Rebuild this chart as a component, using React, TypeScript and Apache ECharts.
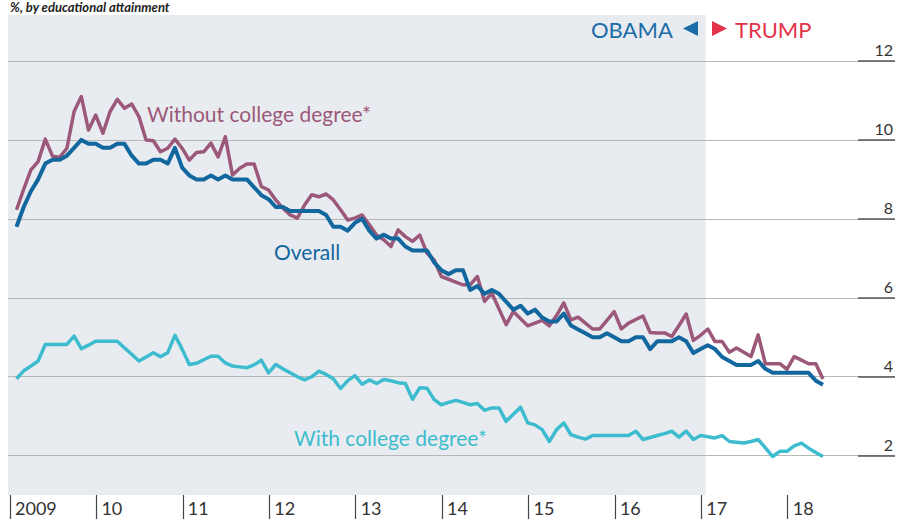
import React, { useEffect, useRef } from "react";
import * as echarts from "echarts";

// Monthly unemployment rate, %, Jan 2009 – May 2018
const overall = [
  7.8, 8.3, 8.7, 9.0, 9.4, 9.5, 9.5, 9.6, 9.8, 10.0, 9.9, 9.9,
  9.8, 9.8, 9.9, 9.9, 9.6, 9.4, 9.4, 9.5, 9.5, 9.4, 9.8, 9.3,
  9.1, 9.0, 9.0, 9.1, 9.0, 9.1, 9.0, 9.0, 9.0, 8.8, 8.6, 8.5,
  8.3, 8.3, 8.2, 8.2, 8.2, 8.2, 8.2, 8.1, 7.8, 7.8, 7.7, 7.9,
  8.0, 7.7, 7.5, 7.6, 7.5, 7.5, 7.3, 7.2, 7.2, 7.2, 6.9, 6.7,
  6.6, 6.7, 6.7, 6.2, 6.3, 6.1, 6.2, 6.1, 5.9, 5.7, 5.8, 5.6,
  5.7, 5.5, 5.4, 5.4, 5.6, 5.3, 5.2, 5.1, 5.0, 5.0, 5.1, 5.0,
  4.9, 4.9, 5.0, 5.0, 4.7, 4.9, 4.9, 4.9, 5.0, 4.9, 4.6, 4.7,
  4.8, 4.7, 4.5, 4.4, 4.3, 4.3, 4.3, 4.4, 4.2, 4.1, 4.1, 4.1,
  4.1, 4.1, 4.1, 3.9, 3.8,
];

const withoutDegree = [
  8.23, 8.75, 9.24, 9.45, 10.02, 9.59, 9.56, 9.79, 10.72, 11.1, 10.25, 10.63,
  10.17, 10.72, 11.03, 10.8, 10.91, 10.59, 10.0, 9.98, 9.7, 9.79, 10.02, 9.79,
  9.49, 9.68, 9.7, 9.92, 9.57, 10.08, 9.11, 9.28, 9.39, 9.39, 8.82, 8.73,
  8.48, 8.27, 8.1, 8.02, 8.35, 8.61, 8.56, 8.63, 8.48, 8.23, 7.97, 8.02,
  8.1, 7.85, 7.59, 7.47, 7.3, 7.72, 7.55, 7.43, 7.59, 7.13, 6.96, 6.54,
  6.47, 6.4, 6.33, 6.33, 6.54, 5.91, 6.12, 5.72, 5.32, 5.65, 5.47, 5.29,
  5.36, 5.43, 5.29, 5.55, 5.87, 5.44, 5.51, 5.36, 5.21, 5.21, 5.43, 5.65,
  5.21, 5.36, 5.45, 5.54, 5.12, 5.11, 5.11, 5.02, 5.3, 5.59, 4.92, 5.05,
  5.21, 4.89, 4.89, 4.62, 4.73, 4.62, 4.51, 5.06, 4.33, 4.33, 4.33, 4.19,
  4.51, 4.42, 4.33, 4.33, 3.94,
];

const withDegree = [
  3.95, 4.15, 4.27, 4.4, 4.82, 4.82, 4.82, 4.82, 5.03, 4.71, 4.8, 4.9,
  4.9, 4.9, 4.9, 4.73, 4.57, 4.4, 4.5, 4.61, 4.51, 4.61, 5.05, 4.7,
  4.31, 4.34, 4.43, 4.52, 4.52, 4.35, 4.27, 4.25, 4.23, 4.3, 4.42, 4.1,
  4.31, 4.2, 4.1, 4.0, 3.92, 4.0, 4.14, 4.06, 3.95, 3.7, 3.9, 4.03,
  3.81, 3.92, 3.83, 3.93, 3.9, 3.85, 3.83, 3.43, 3.72, 3.71, 3.42, 3.29,
  3.35, 3.4, 3.35, 3.29, 3.32, 3.15, 3.21, 3.21, 2.87, 3.05, 3.23, 2.83,
  2.78, 2.66, 2.36, 2.66, 2.83, 2.53, 2.47, 2.42, 2.51, 2.51, 2.51, 2.51,
  2.51, 2.51, 2.62, 2.41, 2.46, 2.51, 2.56, 2.62, 2.47, 2.62, 2.41, 2.51,
  2.48, 2.45, 2.51, 2.36, 2.34, 2.32, 2.36, 2.41, 2.2, 1.98, 2.11, 2.11,
  2.25, 2.32, 2.19, 2.08, 1.98,
];

// x axis in months since Jan 2009
const yearTicks = [0, 12, 24, 36, 48, 60, 72, 84, 96, 108];
const yearLabels = ["2009", "10", "11", "12", "13", "14", "15", "16", "17", "18"];
const yTicks = [2, 4, 6, 8, 10, 12];
const X_MIN = -0.28;
const X_MAX = 122.9;
const Y_MIN = 1.004;
const Y_MAX = 13.165;
const OBAMA_END = 96.63; // Jan 20th 2017
const POINT_OFFSET = 0.9; // monthly values plotted at month end

const C_OVERALL = "#12679f";
const C_WITHOUT = "#9c5878";
const C_WITH = "#3dbccf";
const C_OBAMA = "#1b6ca7";
const C_TRUMP = "#e2334b";
const FONT = "Lato";

export default function App() {
  const ref = useRef<HTMLDivElement>(null);

  useEffect(() => {
    const chart = echarts.init(ref.current!, null, { renderer: "svg" });
    const pairs = (arr: number[]) => arr.map((v, i) => [i + POINT_OFFSET, v]);

    const staticGraphics: any[] = [
      {
        type: "text",
        id: "subtitle",
        x: 10,
        y: 0,
        z: 10,
        style: {
          text: "%, by educational attainment",
          fill: "#222222",
          fontSize: 13,
          fontWeight: "bold",
          fontStyle: "italic",
          fontFamily: FONT,
          verticalAlign: "top",
        },
      },
      {
        type: "text",
        id: "obama",
        x: 591,
        y: 29,
        z: 10,
        style: { text: "OBAMA", fill: C_OBAMA, fontSize: 22, fontFamily: FONT, verticalAlign: "middle" },
      },
      {
        type: "polygon",
        id: "obamaArrow",
        z: 10,
        shape: { points: [[698, 21], [698, 36], [683, 28.5]] },
        style: { fill: C_OBAMA },
      },
      {
        type: "polygon",
        id: "trumpArrow",
        z: 10,
        shape: { points: [[712, 21], [712, 36], [727, 28.5]] },
        style: { fill: C_TRUMP },
      },
      {
        type: "text",
        id: "trump",
        x: 735,
        y: 29,
        z: 10,
        style: { text: "TRUMP", fill: C_TRUMP, fontSize: 22, fontFamily: FONT, verticalAlign: "middle" },
      },
      {
        type: "text",
        id: "lblWithout",
        x: 147,
        y: 113,
        z: 10,
        style: { text: "Without college degree*", fill: C_WITHOUT, fontSize: 21, fontFamily: FONT, verticalAlign: "middle" },
      },
      {
        type: "text",
        id: "lblOverall",
        x: 274,
        y: 251,
        z: 10,
        style: { text: "Overall", fill: C_OVERALL, fontSize: 21, fontFamily: FONT, verticalAlign: "middle" },
      },
      {
        type: "text",
        id: "lblWith",
        x: 294,
        y: 437,
        z: 10,
        style: { text: "With college degree*", fill: C_WITH, fontSize: 21, fontFamily: FONT, verticalAlign: "middle" },
      },
    ];

    chart.setOption({
      animation: false,
      backgroundColor: "#ffffff",
      textStyle: { fontFamily: FONT },
      grid: { left: 8, right: 6, top: 15, bottom: 28 },
      xAxis: {
        type: "value",
        min: X_MIN,
        max: X_MAX,
        axisLine: { show: false, onZero: false },
        splitLine: { show: false },
        axisTick: {
          show: true,
          length: 24,
          customValues: yearTicks,
          lineStyle: { color: "#444444", width: 1.2 },
        },
        axisLabel: {
          customValues: yearTicks,
          formatter: (v: number) => yearLabels[yearTicks.indexOf(v)] ?? "",
          align: "left",
          padding: [0, 0, 0, 5],
          margin: 4,
          fontSize: 18,
          color: "#333333",
          fontFamily: FONT,
        },
      },
      yAxis: {
        type: "value",
        position: "right",
        min: Y_MIN,
        max: Y_MAX,
        z: 3,
        axisLine: { show: false, onZero: false },
        splitLine: { show: false },
        axisTick: {
          show: true,
          inside: true,
          length: 37,
          customValues: yTicks,
          lineStyle: { color: "#555555", width: 1.5 },
        },
        axisLabel: { show: false },
      },
      series: [
        {
          type: "line",
          name: "With college degree*",
          data: pairs(withDegree),
          showSymbol: false,
          z: 2,
          lineStyle: { color: C_WITH, width: 3.5, join: "round" },
          itemStyle: { color: C_WITH },
          markArea: {
            silent: true,
            z: 0,
            itemStyle: { color: "#e8ecf0" },
            data: [[{ xAxis: X_MIN }, { xAxis: OBAMA_END }]],
          },
          markLine: {
            silent: true,
            z: 1,
            symbol: ["none", "none"],
            label: { show: false },
            lineStyle: { color: "#b7b7b7", width: 1, type: "solid" },
            data: yTicks.map((v) => ({ yAxis: v })),
          },
        },
        {
          type: "line",
          name: "Without college degree*",
          data: pairs(withoutDegree),
          showSymbol: false,
          z: 3,
          lineStyle: { color: C_WITHOUT, width: 3.5, join: "round" },
          itemStyle: { color: C_WITHOUT },
        },
        {
          type: "line",
          name: "Overall",
          data: pairs(overall),
          showSymbol: false,
          z: 4,
          lineStyle: { color: C_OVERALL, width: 4, join: "round" },
          itemStyle: { color: C_OVERALL },
        },
      ],
      graphic: staticGraphics,
    });

    // y tick labels, placed through the axis scale, right-aligned above each gridline
    const rightX = chart.convertToPixel({ xAxisIndex: 0 }, X_MAX) as number;
    const yLabelGraphics = yTicks.map((v) => ({
      type: "text",
      id: "ylab" + v,
      x: rightX - 2,
      y: (chart.convertToPixel({ yAxisIndex: 0 }, v) as number) - 3,
      z: 10,
      style: {
        text: String(v),
        fill: "#333333",
        fontSize: 16,
        fontFamily: FONT,
        align: "right",
        verticalAlign: "bottom",
      },
    }));
    chart.setOption({ graphic: [...staticGraphics, ...yLabelGraphics] });

    return () => chart.dispose();
  }, []);

  return (
    <div
      ref={ref}
      style={{ position: "fixed", left: 0, top: 0, width: 901, height: 523, background: "#ffffff" }}
    />
  );
}
